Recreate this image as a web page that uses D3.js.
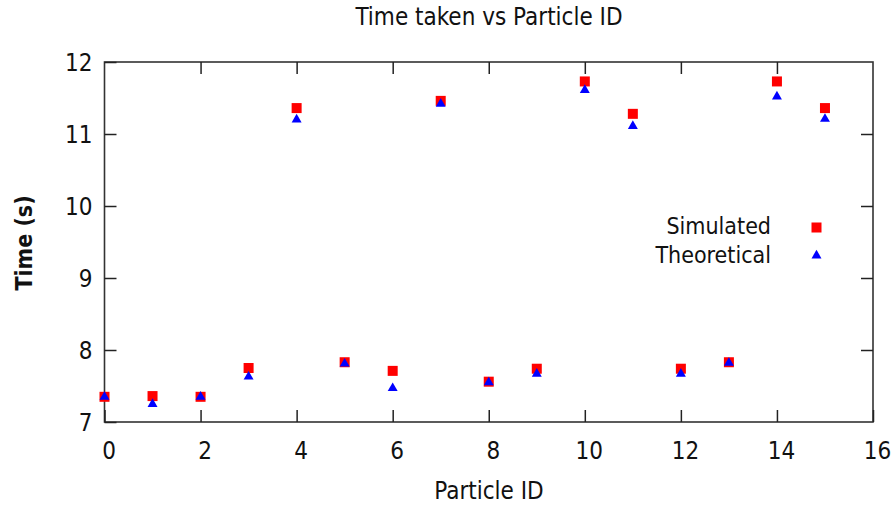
<!DOCTYPE html>
<html>
<head>
<meta charset="utf-8">
<script src="https://cdn.jsdelivr.net/npm/d3@7"></script>
<style>
  html, body { margin: 0; padding: 0; background: #fff; }
  svg { display: block; }
  text { font-family: "DejaVu Sans Condensed", "DejaVu Sans", sans-serif; font-stretch: condensed; fill: #111; }
</style>
</head>
<body>
<svg id="chart" width="894" height="509"></svg>
<script>
// Particle IDs and measured / predicted travel times (s)
const particleIds = [0, 1, 2, 3, 4, 5, 6, 7, 8, 9, 10, 11, 12, 13, 14, 15];
const simulated   = [7.35, 7.36, 7.35, 7.75, 11.36, 7.83, 7.71, 11.46, 7.56, 7.74, 11.73, 11.28, 7.74, 7.83, 11.73, 11.36];
const theoretical = [7.35, 7.25, 7.35, 7.63, 11.20, 7.81, 7.47, 11.42, 7.55, 7.67, 11.61, 11.11, 7.67, 7.82, 11.52, 11.21];
const xTicks = [0, 2, 4, 6, 8, 10, 12, 14, 16];
const yTicks = [7, 8, 9, 10, 11, 12];

const FONT = "'DejaVu Sans Condensed', 'DejaVu Sans', sans-serif";
const svg = d3.select("#chart");
const m = { left: 104.5, right: 873, top: 62, bottom: 422 };

const x = d3.scaleLinear().domain([0, 16]).range([m.left, m.right]);
const y = d3.scaleLinear().domain([7, 12]).range([m.bottom, m.top]);
const tickLen = 12;
const axisColor = "#333";

// Frame
svg.append("rect")
  .attr("x", m.left).attr("y", m.top)
  .attr("width", m.right - m.left).attr("height", m.bottom - m.top)
  .attr("fill", "none").attr("stroke", axisColor).attr("stroke-width", 1.6);

// Bottom and top axes: inward ticks, labels at the bottom
const xAxisBottom = d3.axisBottom(x).tickValues(xTicks).tickFormat(d3.format("d"))
  .tickSizeInner(-tickLen).tickSizeOuter(0).tickPadding(20);
const gxb = svg.append("g").attr("transform", `translate(0,${m.bottom})`).call(xAxisBottom);
const xAxisTop = d3.axisTop(x).tickValues(xTicks.filter(v => v > 0 && v < 16))
  .tickSizeInner(-tickLen).tickSizeOuter(0).tickFormat("");
const gxt = svg.append("g").attr("transform", `translate(0,${m.top})`).call(xAxisTop);

// Left and right axes
const yAxisLeft = d3.axisLeft(y).tickValues(yTicks).tickFormat(d3.format("d"))
  .tickSizeInner(-tickLen).tickSizeOuter(0).tickPadding(12);
const gyl = svg.append("g").attr("transform", `translate(${m.left},0)`).call(yAxisLeft);
const yAxisRight = d3.axisRight(y).tickValues(yTicks.filter(v => v > 7 && v < 12))
  .tickSizeInner(-tickLen).tickSizeOuter(0).tickFormat("");
const gyr = svg.append("g").attr("transform", `translate(${m.right},0)`).call(yAxisRight);

[gxb, gxt, gyl, gyr].forEach(g => {
  g.select(".domain").remove();
  g.selectAll(".tick line").attr("stroke", "#222").attr("stroke-width", 1.5);
  g.selectAll(".tick text")
    .style("font-family", FONT).style("font-stretch", "condensed")
    .style("font-size", "24px").attr("fill", "#111");
});
gxb.selectAll(".tick text").attr("dy", "0.71em").attr("dx", 4);
gyl.selectAll(".tick text").attr("dy", "0.35em");

// Markers
const sq = 10;
svg.append("g").selectAll("rect")
  .data(particleIds)
  .join("rect")
  .attr("x", d => x(d) - sq / 2)
  .attr("y", (d, i) => y(simulated[i]) - sq / 2)
  .attr("width", sq).attr("height", sq)
  .attr("fill", "#ff0000");

const tri = d3.symbol().type(d3.symbolTriangle).size(43);
svg.append("g").selectAll("path")
  .data(particleIds)
  .join("path")
  .attr("d", tri)
  .attr("transform", (d, i) => `translate(${x(d)},${y(theoretical[i])})`)
  .attr("fill", "#0000ff");

// Legend
const legend = svg.append("g");
legend.append("text").attr("x", 771).attr("y", 234).attr("text-anchor", "end")
  .style("font-size", "23px").text("Simulated");
legend.append("rect").attr("x", 816.5 - 5).attr("y", 227.5 - 5).attr("width", 10).attr("height", 10).attr("fill", "#ff0000");
legend.append("text").attr("x", 771).attr("y", 263).attr("text-anchor", "end")
  .style("font-size", "23px").text("Theoretical");
legend.append("path").attr("d", d3.symbol().type(d3.symbolTriangle).size(43))
  .attr("transform", "translate(816.5,255.5)").attr("fill", "#0000ff");

// Titles
svg.append("text").attr("x", 489).attr("y", 25).attr("text-anchor", "middle")
  .style("font-size", "24px").text("Time taken vs Particle ID");
svg.append("text").attr("x", 489).attr("y", 499).attr("text-anchor", "middle")
  .style("font-size", "24px").text("Particle ID");
svg.append("text")
  .attr("transform", "translate(32,243) rotate(-90)")
  .attr("text-anchor", "middle")
  .style("font-size", "23px").style("font-weight", "bold").text("Time (s)");
</script>
</body>
</html>
